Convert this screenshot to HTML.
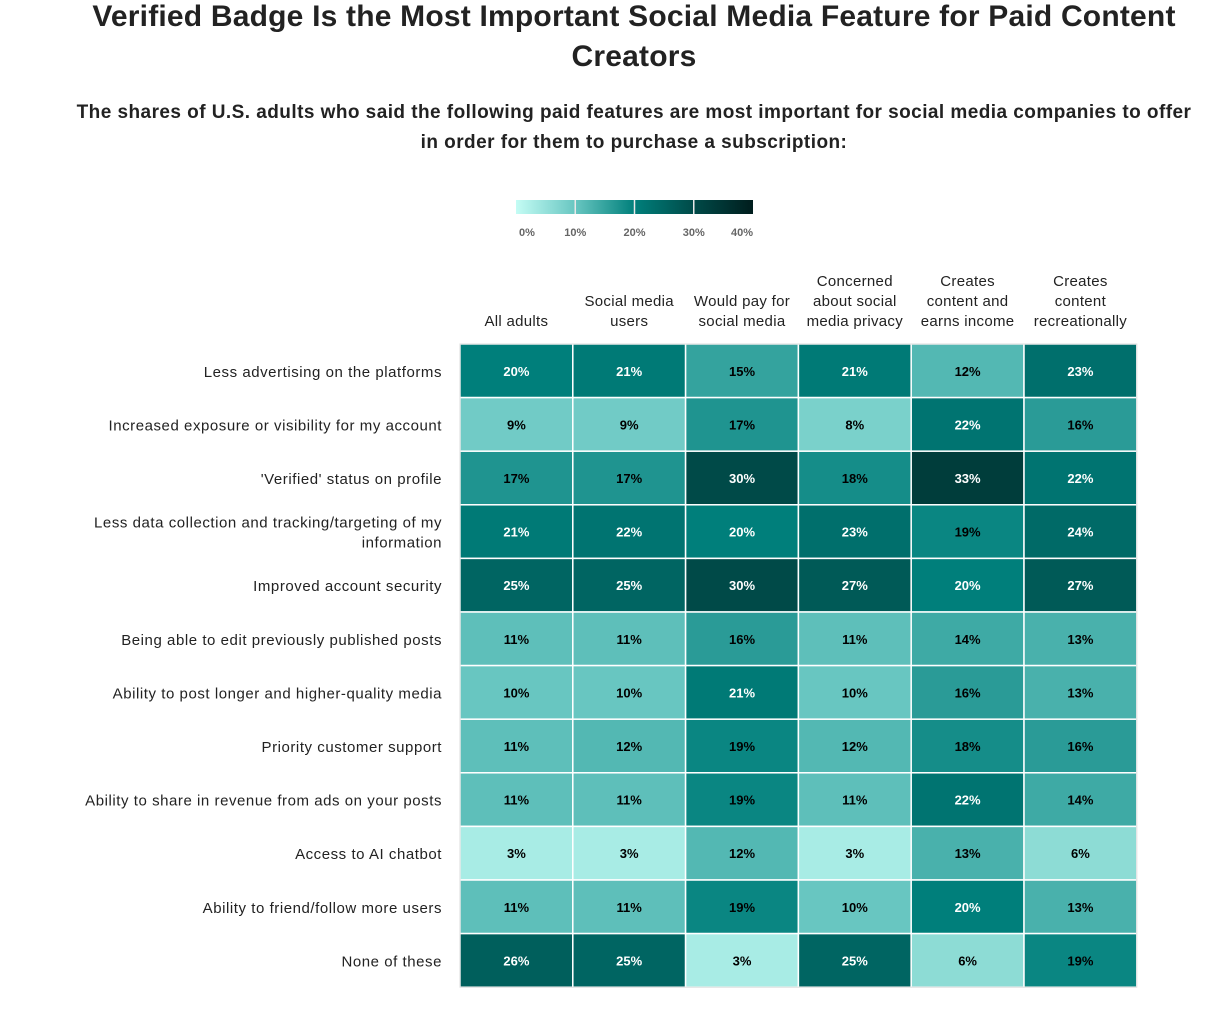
<!DOCTYPE html>
<html><head><meta charset="utf-8"><style>
body{margin:0;background:#fff;font-family:"Liberation Sans",sans-serif;color:#222;}
#wrap{position:relative;width:1205px;height:1009px;overflow:hidden;}
h1{position:absolute;left:60px;width:1148px;top:-3px;margin:0;text-align:center;font-size:30px;line-height:40px;font-weight:bold;color:#222;letter-spacing:0.2px;}
h2{position:absolute;left:72px;width:1124px;top:98px;margin:0;text-align:center;font-size:19px;line-height:30px;font-weight:bold;color:#222;letter-spacing:0.45px;}
</style></head><body><div id="wrap">
<h1>Verified Badge Is the Most Important Social Media Feature for Paid Content Creators</h1>
<h2>The shares of U.S. adults who said the following paid features are most important for social media companies to offer in order for them to purchase a subscription:</h2>
<svg id="svg" width="1205" height="1009" style="position:absolute;left:0;top:0"></svg>
</div>
<script>
const columns=[["All adults"],["Social media","users"],["Would pay for","social media"],["Concerned","about social","media privacy"],["Creates","content and","earns income"],["Creates","content","recreationally"]];
const rows=[["Less advertising on the platforms"],["Increased exposure or visibility for my account"],["'Verified' status on profile"],["Less data collection and tracking/targeting of my","information"],["Improved account security"],["Being able to edit previously published posts"],["Ability to post longer and higher-quality media"],["Priority customer support"],["Ability to share in revenue from ads on your posts"],["Access to AI chatbot"],["Ability to friend/follow more users"],["None of these"]];
const values=[
[20,21,15,21,12,23],
[9,9,17,8,22,16],
[17,17,30,18,33,22],
[21,22,20,23,19,24],
[25,25,30,27,20,27],
[11,11,16,11,14,13],
[10,10,21,10,16,13],
[11,12,19,12,18,16],
[11,11,19,11,22,14],
[3,3,12,3,13,6],
[11,11,19,10,20,13],
[26,25,3,25,6,19]];
const legendTicks=[0,10,20,30,40];
const NS="http://www.w3.org/2000/svg";
const svg=document.getElementById('svg');
function mk(t,a,p){const e=document.createElementNS(NS,t);for(const k in a)e.setAttribute(k,a[k]);(p||svg).appendChild(e);return e;}
const stops=[[0,[196,252,244]],[10,[104,198,193]],[20,[0,127,123]],[30,[0,74,72]],[40,[0,29,29]]];
function color(v){v=Math.max(0,Math.min(40,v));for(let i=0;i<stops.length-1;i++){const a=stops[i],b=stops[i+1];if(v<=b[0]){const t=(v-a[0])/(b[0]-a[0]);const c=a[1].map((x,j)=>Math.round(x+(b[1][j]-x)*t));return `rgb(${c.join(',')})`;}}return 'rgb(0,29,29)';}
const X0=460,CW=112.8,Y0=344,RH=53.6;
const xs=i=>X0+i*CW, ys=i=>Y0+i*RH;
const LX0=516,LX1=753;const lx=v=>LX0+(v-legendTicks[0])/(legendTicks[legendTicks.length-1]-legendTicks[0])*(LX1-LX0);
const defs=mk('defs',{});
const gr=mk('linearGradient',{id:'lg',x1:'0',x2:'1',y1:'0',y2:'0'},defs);
for(let v=0;v<=40;v+=5)mk('stop',{offset:(v/40),'stop-color':color(v)},gr);
const leg=mk('rect',{x:LX0,y:200,width:LX1-LX0,height:14,fill:'url(#lg)'});


legendTicks.forEach((v,i)=>{
 if(i>0&&i<legendTicks.length-1){const l=mk('line',{x1:lx(v),x2:lx(v),y1:200,y2:214,stroke:'#e8e8e8','stroke-width':1.5});}
 const t=mk('text',{x:lx(v)+(i==0?11:i==legendTicks.length-1?-11:0),y:236,'text-anchor':'middle','font-size':11,'font-weight':'bold',fill:'#666'});
 t.textContent=v+'%';
 
 
});
columns.forEach((c,i)=>{c.forEach((ln,k)=>{const t=mk('text',{x:xs(i)+CW/2,y:326-(c.length-1-k)*20,'text-anchor':'middle','font-size':15,fill:'#222','letter-spacing':0.3});t.textContent=ln;

});});
rows.forEach((r,i)=>{const cy=ys(i)+RH/2;r.forEach((ln,k)=>{const t=mk('text',{x:442,y:cy+6+(k-(r.length-1)/2)*20,'text-anchor':'end','font-size':15,fill:'#222','letter-spacing':0.55});t.textContent=ln;

});});
values.forEach((row,i)=>row.forEach((v,j)=>{
 const r=mk('rect',{x:xs(j),y:ys(i),width:CW,height:RH,fill:color(v),stroke:'#fff','stroke-width':1.5});
 
 
 const t=mk('text',{x:xs(j)+CW/2,y:ys(i)+RH/2+5,'text-anchor':'middle','font-size':13,'font-weight':'bold',fill:v>=20?'#fff':'#000'});
 t.textContent=v+'%';
 
 
}));
const b=mk('rect',{x:X0,y:Y0,width:CW*6,height:RH*12,fill:'none',stroke:'#ddd','stroke-width':1});


</script></body></html>
